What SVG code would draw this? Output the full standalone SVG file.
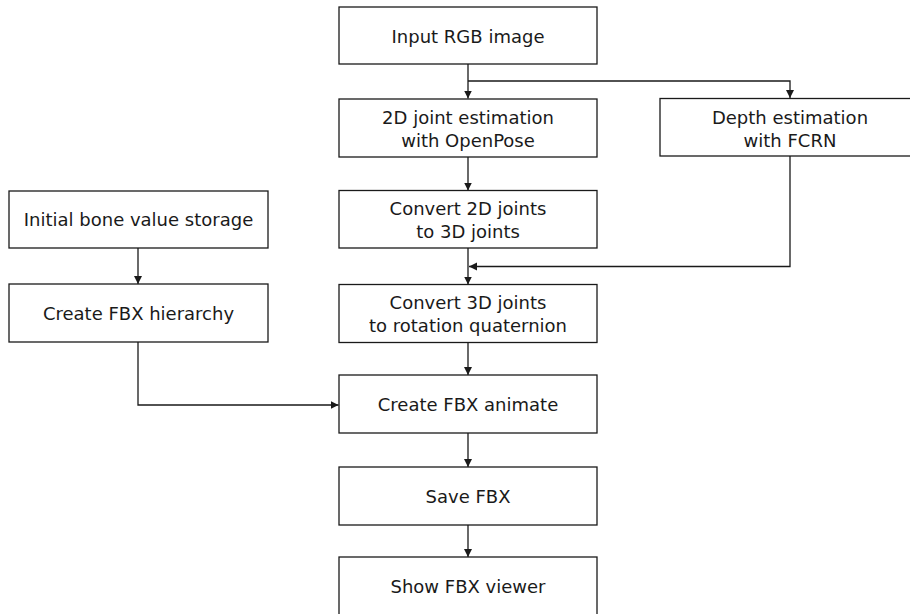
<svg xmlns="http://www.w3.org/2000/svg" width="910" height="614" viewBox="0 0 910 614">
<defs>
<style>
.box{fill:#fff;stroke:#1a1a1a;stroke-width:1.3}
.lbl{font-family:"DejaVu Sans","Noto Sans",sans-serif;font-size:18px;fill:#1a1a1a;text-anchor:middle}
.con{fill:none;stroke:#1a1a1a;stroke-width:1.3}
</style>
<marker id="ah" markerUnits="userSpaceOnUse" markerWidth="9" markerHeight="9" refX="8" refY="4" orient="auto">
<path d="M0,0 L8,4 L0,8 z" fill="#1a1a1a"/>
</marker>
</defs>
<rect width="910" height="614" fill="#fff"/>
<g id="connectors">
<path class="con" d="M468,64 V98.5" marker-end="url(#ah)"/>
<path class="con" d="M468,81 H790 V98" marker-end="url(#ah)"/>
<path class="con" d="M468,157 V190.5" marker-end="url(#ah)"/>
<path class="con" d="M468,248 V284.5" marker-end="url(#ah)"/>
<path class="con" d="M790,156 V266.5 H469" marker-end="url(#ah)"/>
<path class="con" d="M138,248 V284" marker-end="url(#ah)"/>
<path class="con" d="M138,342 V405 H338.5" marker-end="url(#ah)"/>
<path class="con" d="M468,342.5 V375" marker-end="url(#ah)"/>
<path class="con" d="M468,433 V467" marker-end="url(#ah)"/>
<path class="con" d="M468,525 V557" marker-end="url(#ah)"/>
</g>
<g id="input">
<rect class="box" x="339" y="7" width="258" height="57"/>
<text class="lbl" x="468" y="42.5">Input RGB image</text>
</g>
<g id="joint2d">
<rect class="box" x="339" y="99" width="258" height="58"/>
<text class="lbl" x="468" y="124">2D joint estimation</text>
<text class="lbl" x="468" y="147">with OpenPose</text>
</g>
<g id="depth">
<rect class="box" x="660" y="98.5" width="259" height="57.5"/>
<text class="lbl" x="790" y="123.5">Depth estimation</text>
<text class="lbl" x="790" y="146.5">with FCRN</text>
</g>
<g id="convert2d3d">
<rect class="box" x="339" y="190.5" width="258" height="57.5"/>
<text class="lbl" x="468" y="215">Convert 2D joints</text>
<text class="lbl" x="468" y="238">to 3D joints</text>
</g>
<g id="convertquat">
<rect class="box" x="339" y="284.5" width="258" height="58"/>
<text class="lbl" x="468" y="309">Convert 3D joints</text>
<text class="lbl" x="468" y="332">to rotation quaternion</text>
</g>
<g id="bonestorage">
<rect class="box" x="9" y="191" width="259" height="57"/>
<text class="lbl" x="138.5" y="226">Initial bone value storage</text>
</g>
<g id="hierarchy">
<rect class="box" x="9" y="284" width="259" height="58"/>
<text class="lbl" x="138.5" y="319.5">Create FBX hierarchy</text>
</g>
<g id="animate">
<rect class="box" x="339" y="375" width="258" height="58"/>
<text class="lbl" x="468" y="410.5">Create FBX animate</text>
</g>
<g id="save">
<rect class="box" x="339" y="467" width="258" height="58"/>
<text class="lbl" x="468" y="502.5">Save FBX</text>
</g>
<g id="viewer">
<rect class="box" x="339" y="557" width="258" height="58"/>
<text class="lbl" x="468" y="592.5">Show FBX viewer</text>
</g>
</svg>
